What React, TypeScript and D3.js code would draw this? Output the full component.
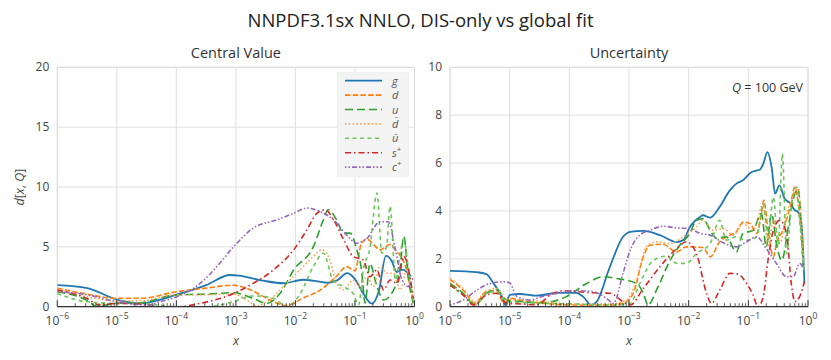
import React, { useEffect, useRef } from 'react';
import * as d3 from 'd3';

// points are [log10(x), value]
const gCentral = [[-6,1.8],[-5.5,1.55],[-5,0.6],[-4.6,0.28],[-4,1.0],[-3.5,1.8],[-3.1,2.65],[-2.95,2.6],[-2.55,2.18],[-2.2,1.96],[-1.87,2.25],[-1.6,2.1],[-1.45,2.0],[-1.3,2.2],[-1.13,2.8],[-1.0,2.3],[-0.86,1.1],[-0.72,0.25],[-0.6,1.3],[-0.48,4.25],[-0.38,3.8],[-0.3,2.9],[-0.2,3.1],[-0.06,2.55]];
const dCentral = [[-6,1.55],[-5.5,1.05],[-5,0.7],[-4.6,0.7],[-4,1.25],[-3.5,1.55],[-3.05,1.8],[-2.75,1.4],[-2.43,0.56],[-2.15,0.1],[-1.86,0.75],[-1.58,1.4],[-1.3,2.6],[-1.14,3.35],[-1.0,3.0],[-0.89,5.3],[-0.8,5.65],[-0.69,5.2],[-0.58,4.75],[-0.41,5.2],[-0.3,4.6],[-0.2,4.0],[-0.13,3.0],[-0.04,0.8]];
const uCentral = [[-6,1.25],[-5.51,0.55],[-5.34,0.05],[-5.0,0.28],[-4.61,0.33],[-3.99,1.0],[-3.49,1.05],[-3.04,1.17],[-2.71,0.7],[-2.48,0.28],[-2.26,1.1],[-2.03,3.07],[-1.7,5.0],[-1.53,7.26],[-1.45,8.1],[-1.31,7.26],[-1.19,6.15],[-1.08,6.15],[-0.97,4.75],[-0.89,3.07],[-0.83,0.3],[-0.75,3.6],[-0.63,1.68],[-0.52,0.56],[-0.35,1.4],[-0.24,3.35],[-0.18,5.87],[-0.1,2.23],[-0.02,0.28]];
const dbarCentral = [[-6,1.45],[-5.51,0.84],[-5.0,0.5],[-4.61,0.5],[-3.99,1.0],[-3.49,1.0],[-3.04,1.05],[-2.82,0.56],[-2.65,0.05],[-2.48,0.42],[-2.15,1.95],[-1.87,3.35],[-1.7,4.2],[-1.56,4.75],[-1.42,3.9],[-1.31,1.95],[-1.19,1.4],[-1.03,2.23],[-0.91,1.68],[-0.8,2.5],[-0.69,1.68],[-0.58,3.35],[-0.46,2.8],[-0.35,2.8],[-0.24,1.4],[-0.13,3.07],[-0.02,0.42]];
const ubarCentral = [[-6,1.1],[-5.51,0.42],[-5.0,0.28],[-4.61,0.28],[-3.99,0.0],[-3.49,0.0],[-3.04,0.42],[-2.71,0.9],[-2.37,0.7],[-2.15,0.0],[-1.93,1.0],[-1.7,3.35],[-1.53,4.47],[-1.37,2.23],[-1.19,1.68],[-1.03,1.1],[-0.94,0.14],[-0.86,3.07],[-0.75,4.9],[-0.63,9.5],[-0.55,4.47],[-0.47,5.0],[-0.41,8.4],[-0.32,2.23],[-0.24,4.47],[-0.18,5.6],[-0.1,3.07],[-0.02,0.42]];
const sCentral = [[-6,1.4],[-5.51,0.7],[-5.29,0.14],[-5.0,0.28],[-4.61,0.22],[-4.33,0.0],[-3.99,0.0],[-3.6,0.28],[-3.04,1.1],[-2.71,1.95],[-2.37,3.07],[-2.03,4.75],[-1.81,6.4],[-1.64,7.8],[-1.5,8.1],[-1.36,7.26],[-1.19,5.6],[-1.03,4.2],[-0.86,3.9],[-0.75,2.5],[-0.63,3.07],[-0.52,1.4],[-0.41,2.23],[-0.29,1.95],[-0.18,4.2],[-0.02,0.7]];
const cCentral = [[-6,1.25],[-5.51,1.0],[-5.0,0.42],[-4.5,0.14],[-4.27,0.42],[-3.99,0.84],[-3.6,1.95],[-3.32,3.35],[-3.04,5.0],[-2.71,6.56],[-2.31,7.26],[-2.03,7.8],[-1.81,8.24],[-1.59,7.96],[-1.36,7.26],[-1.14,6.0],[-0.97,5.3],[-0.8,5.7],[-0.58,7.1],[-0.44,7.1],[-0.32,4.75],[-0.21,2.23],[-0.1,1.68],[-0.02,2.5]];

const gUnc = [[-6,1.5],[-5.55,1.44],[-5.39,1.36],[-5.27,0.97],[-5.13,0.42],[-5.07,0.07],[-5.0,0.49],[-4.83,0.53],[-4.55,0.46],[-4.2,0.58],[-3.88,0.58],[-3.77,0.42],[-3.63,0.07],[-3.54,0.21],[-3.32,1.67],[-3.1,2.92],[-2.98,3.13],[-2.76,3.17],[-2.48,2.99],[-2.2,2.7],[-2.09,2.78],[-1.98,3.33],[-1.81,3.75],[-1.76,3.82],[-1.64,3.72],[-1.48,4.17],[-1.31,4.86],[-1.2,5.14],[-1.09,5.28],[-0.95,5.62],[-0.86,5.69],[-0.81,5.72],[-0.75,5.97],[-0.68,6.46],[-0.61,5.83],[-0.55,4.72],[-0.48,5.07],[-0.39,4.51],[-0.3,4.33],[-0.22,4.03],[-0.17,3.96],[-0.11,3.47],[-0.06,0.97]];
const dUnc = [[-6,1.14],[-5.78,0.69],[-5.58,0.14],[-5.39,0.63],[-5.22,0.67],[-5.1,0.17],[-5.0,0.35],[-4.72,0.21],[-4.44,0.14],[-3.88,0.07],[-3.32,0.07],[-3.1,0.14],[-2.93,0.56],[-2.76,2.08],[-2.65,2.57],[-2.43,2.61],[-2.2,2.29],[-2.04,2.5],[-1.76,2.47],[-1.64,2.08],[-1.48,2.71],[-1.31,2.99],[-1.2,3.13],[-1.09,3.54],[-0.97,3.47],[-0.86,3.06],[-0.78,3.89],[-0.74,4.44],[-0.67,3.19],[-0.58,2.08],[-0.53,2.64],[-0.42,3.19],[-0.3,4.17],[-0.22,5.0],[-0.17,4.44],[-0.08,1.94]];
const uUnc = [[-6,0.97],[-5.78,0.56],[-5.58,0.07],[-5.39,0.56],[-5.22,0.72],[-5.05,0.28],[-4.77,0.21],[-4.44,0.17],[-4.05,0.42],[-3.71,0.97],[-3.43,1.25],[-3.21,1.18],[-2.87,0.97],[-2.76,0.56],[-2.68,0.07],[-2.54,0.69],[-2.31,1.94],[-2.15,2.57],[-1.98,3.06],[-1.87,3.61],[-1.76,3.68],[-1.64,3.19],[-1.53,2.85],[-1.37,2.92],[-1.2,2.29],[-1.09,3.06],[-0.92,3.19],[-0.78,3.89],[-0.7,2.5],[-0.61,3.89],[-0.53,2.64],[-0.44,1.94],[-0.33,3.33],[-0.22,4.72],[-0.17,4.93],[-0.08,1.67]];
const dbarUnc = [[-6,1.18],[-5.78,0.76],[-5.58,0.21],[-5.39,0.67],[-5.22,0.76],[-5.05,0.28],[-4.77,0.28],[-4.44,0.21],[-3.88,0.11],[-3.32,0.11],[-3.04,0.28],[-2.87,1.11],[-2.71,2.5],[-2.54,2.71],[-2.31,2.64],[-2.09,2.92],[-1.87,3.33],[-1.76,3.61],[-1.59,3.19],[-1.42,3.26],[-1.25,2.99],[-1.09,3.47],[-0.92,3.19],[-0.75,4.31],[-0.67,2.5],[-0.58,3.61],[-0.47,2.64],[-0.36,3.89],[-0.25,4.58],[-0.17,4.93],[-0.07,1.67]];
const ubarUnc = [[-6,0.9],[-5.78,0.49],[-5.58,0.07],[-5.39,0.56],[-5.22,0.63],[-5.05,0.21],[-4.77,0.17],[-3.88,0.11],[-3.32,0.07],[-2.98,0.14],[-2.82,0.97],[-2.59,1.94],[-2.37,2.11],[-2.2,1.81],[-2.04,1.81],[-1.87,2.22],[-1.64,2.64],[-1.48,3.61],[-1.37,2.78],[-1.2,2.92],[-1.03,2.78],[-0.86,2.92],[-0.75,4.31],[-0.67,2.92],[-0.58,4.58],[-0.5,2.5],[-0.43,6.39],[-0.36,2.22],[-0.28,4.17],[-0.19,5.0],[-0.14,3.61],[-0.07,1.53]];
const sUnc = [[-6,0.9],[-5.78,0.49],[-5.61,0.07],[-5.39,0.49],[-5.22,0.56],[-5.05,0.14],[-4.77,0.11],[-4.55,0.07],[-4.32,0.49],[-4.1,0.67],[-3.88,0.63],[-3.6,0.58],[-3.32,0.56],[-3.1,0.21],[-2.98,0.07],[-2.76,0.76],[-2.48,1.67],[-2.2,2.43],[-2.04,2.71],[-1.87,2.22],[-1.7,0.56],[-1.62,0.14],[-1.48,0.69],[-1.31,1.39],[-1.17,1.36],[-1.03,0.97],[-0.92,0.49],[-0.84,0.0],[-0.75,0.42],[-0.67,1.94],[-0.58,3.19],[-0.47,3.61],[-0.36,3.06],[-0.28,0.97],[-0.22,0.21],[-0.14,0.42],[-0.06,1.04]];
const cUnc = [[-6,0.07],[-5.78,0.28],[-5.55,0.69],[-5.33,0.97],[-5.1,1.04],[-5.0,1.0],[-4.88,0.42],[-4.66,0.28],[-4.44,0.44],[-4.16,0.58],[-3.88,0.67],[-3.6,0.63],[-3.38,0.35],[-3.26,0.14],[-3.1,1.39],[-2.98,2.36],[-2.82,2.99],[-2.65,3.19],[-2.43,3.36],[-2.2,3.29],[-1.98,3.26],[-1.81,3.06],[-1.64,2.99],[-1.42,2.67],[-1.2,2.5],[-1.03,2.71],[-0.86,2.92],[-0.7,2.43],[-0.53,1.81],[-0.36,1.25],[-0.25,1.25],[-0.14,1.81],[-0.08,1.6]];

const flavours = ['g', 'd', 'u', 'd\u0304', 'u\u0304', 's', 'c'];
const colors = ['#1f77b4', '#ff7f0e', '#2ca02c', '#ffa04a', '#6cc65c', '#d62728', '#9467bd'];
const dashes = ['none', '5.5,2.2', '8,4', '1.5,2.3', '4,3.5', '6,3,1.5,3', '1.5,2,1.5,2,5,2'];
const centralData = [gCentral, dCentral, uCentral, dbarCentral, ubarCentral, sCentral, cCentral];
const uncData = [gUnc, dUnc, uUnc, dbarUnc, ubarUnc, sUnc, cUnc];
const xTickExps = [-6, -5, -4, -3, -2, -1, 0];
const leftYTicks = [0, 5, 10, 15, 20];
const rightYTicks = [0, 2, 4, 6, 8, 10];

const FONT = '"Open Sans", Lato, sans-serif';
const TXT = '#444';

export default function App() {
  const ref = useRef<SVGSVGElement>(null);

  useEffect(() => {
    const svg = d3.select(ref.current);
    svg.selectAll('*').remove();

    // title
    svg.append('text')
      .attr('x', 420.5).attr('y', 27)
      .attr('text-anchor', 'middle')
      .style('font-size', '18.5px').style('font-family', FONT).attr('fill', '#222')
      .text('NNPDF3.1sx NNLO, DIS-only vs global fit');

    const panels = [
      { x0: 57.3, x1: 414.5, yMax: 20, ticks: leftYTicks, data: centralData, title: 'Central Value', id: 'L' },
      { x0: 450, x1: 808, yMax: 10, ticks: rightYTicks, data: uncData, title: 'Uncertainty', id: 'R' },
    ];
    const top = 67.3, bottom = 306.7;

    panels.forEach(p => {
      const x = d3.scaleLog().domain([1e-6, 1]).range([p.x0, p.x1]);
      const y = d3.scaleLinear().domain([0, p.yMax]).range([bottom, top]);
      const g = svg.append('g');

      // grid
      g.selectAll('.vg').data(xTickExps).enter().append('line')
        .attr('x1', d => x(Math.pow(10, d))).attr('x2', d => x(Math.pow(10, d)))
        .attr('y1', top).attr('y2', bottom)
        .attr('stroke', '#dcdcdc').attr('stroke-width', 0.9);
      g.selectAll('.hg').data(p.ticks).enter().append('line')
        .attr('x1', p.x0).attr('x2', p.x1)
        .attr('y1', d => y(d)).attr('y2', d => y(d))
        .attr('stroke', '#dcdcdc').attr('stroke-width', 0.9);
      // frame
      g.append('rect')
        .attr('x', p.x0).attr('y', top).attr('width', p.x1 - p.x0).attr('height', bottom - top)
        .attr('fill', 'none').attr('stroke', '#dcdcdc').attr('stroke-width', 0.9);

      // clip
      svg.append('defs').append('clipPath').attr('id', 'clip' + p.id)
        .append('rect').attr('x', p.x0).attr('y', top - 2).attr('width', p.x1 - p.x0).attr('height', bottom - top + 2);

      const line = d3.line<number[]>()
        .x(d => x(Math.pow(10, d[0])))
        .y(d => y(Math.max(0, d[1])))
        .curve(d3.curveMonotoneX);

      const lines = g.append('g').attr('clip-path', `url(#clip${p.id})`);
      p.data.forEach((series, i) => {
        lines.append('path')
          .datum(series)
          .attr('fill', 'none')
          .attr('stroke', colors[i])
          .attr('stroke-width', i === 0 ? 1.8 : 1.6)
          .attr('stroke-dasharray', dashes[i])
          .attr('d', line);
      });

      // bottom axis spine and ticks
      g.append('line').attr('x1', p.x0).attr('x2', p.x1).attr('y1', bottom).attr('y2', bottom)
        .attr('stroke', '#333').attr('stroke-width', 1.2);
      const minor: number[] = [];
      for (let e = -6; e < 0; e++) for (let m = 2; m <= 9; m++) minor.push(m * Math.pow(10, e));
      g.selectAll('.mt').data(minor).enter().append('line')
        .attr('x1', d => x(d)).attr('x2', d => x(d))
        .attr('y1', bottom).attr('y2', bottom - 3.5)
        .attr('stroke', '#333').attr('stroke-width', 0.8);
      g.selectAll('.Mt').data(xTickExps).enter().append('line')
        .attr('x1', d => x(Math.pow(10, d))).attr('x2', d => x(Math.pow(10, d)))
        .attr('y1', bottom).attr('y2', bottom - 6.5)
        .attr('stroke', '#333').attr('stroke-width', 1);

      // x tick labels
      const xl = g.selectAll('.xl').data(xTickExps).enter().append('text')
        .attr('x', d => x(Math.pow(10, d)))
        .attr('y', bottom + 18)
        .attr('text-anchor', 'middle')
        .style('font-size', '12px').style('font-family', FONT).attr('fill', TXT);
      xl.append('tspan').text('10');
      xl.append('tspan').attr('dy', -5.5).style('font-size', '8.5px')
        .text(d => (d < 0 ? '\u2212' + (-d) : String(d)));

      // y tick labels
      g.selectAll('.yl').data(p.ticks).enter().append('text')
        .attr('x', p.x0 - 8).attr('y', d => y(d) + 4)
        .attr('text-anchor', 'end')
        .style('font-size', '12px').style('font-family', FONT).attr('fill', TXT)
        .text(d => d);

      // panel title
      g.append('text')
        .attr('x', (p.x0 + p.x1) / 2).attr('y', 58)
        .attr('text-anchor', 'middle')
        .style('font-size', '14.5px').style('font-family', FONT).attr('fill', '#333')
        .text(p.title);

      // x label
      g.append('text')
        .attr('x', (p.x0 + p.x1) / 2).attr('y', 345)
        .attr('text-anchor', 'middle')
        .style('font-size', '12.5px').style('font-family', FONT).style('font-style', 'italic').attr('fill', TXT)
        .text('x');
    });

    // y label
    const yl = svg.append('text')
      .attr('transform', 'translate(24,187) rotate(-90)')
      .attr('text-anchor', 'middle')
      .style('font-size', '12.5px').style('font-family', FONT).attr('fill', TXT);
    yl.append('tspan').style('font-style', 'italic').text('d');
    yl.append('tspan').text('[');
    yl.append('tspan').style('font-style', 'italic').text('x');
    yl.append('tspan').text(', ');
    yl.append('tspan').style('font-style', 'italic').text('Q');
    yl.append('tspan').text(']');

    // Q annotation
    const q = svg.append('text')
      .attr('x', 803).attr('y', 92)
      .attr('text-anchor', 'end')
      .style('font-size', '12.5px').style('font-family', FONT).attr('fill', '#333');
    q.append('tspan').style('font-style', 'italic').text('Q');
    q.append('tspan').text(' = 100 GeV');

    // legend
    const leg = svg.append('g');
    leg.append('rect')
      .attr('x', 337.5).attr('y', 72.7).attr('width', 71).attr('height', 104)
      .attr('fill', '#f4f4f4').attr('stroke', '#eeeeee');
    flavours.forEach((f, i) => {
      const ly = 80.7 + i * 14.4;
      leg.append('line')
        .attr('x1', 345).attr('x2', 382).attr('y1', ly).attr('y2', ly)
        .attr('stroke', colors[i]).attr('stroke-width', i === 0 ? 1.8 : 1.6)
        .attr('stroke-dasharray', dashes[i]);
      const t = leg.append('text')
        .attr('x', 392).attr('y', ly + 4)
        .style('font-size', '11px').style('font-family', FONT).style('font-style', 'italic')
        .attr('fill', '#555');
      t.append('tspan').text(f);
      if (i >= 5) t.append('tspan').attr('dy', -5).style('font-size', '8px').style('font-style', 'normal').text('+');
    });
  }, []);

  return (
    <svg ref={ref} width={831} height={360}
      style={{ position: 'absolute', left: 0, top: 0, background: '#fff' }} />
  );
}
